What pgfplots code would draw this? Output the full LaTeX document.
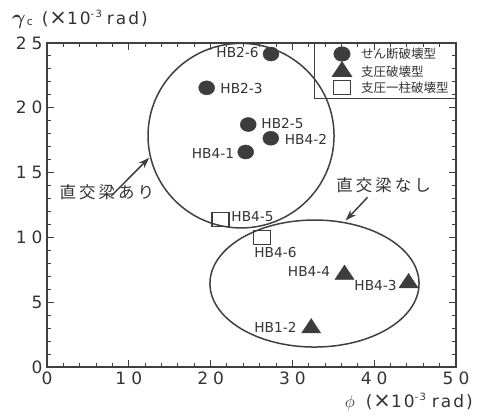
\documentclass[border=0pt]{standalone}
\usepackage{pgfplots}
\pgfplotsset{compat=1.18}
\usepackage{bm}
\usepackage{fontspec}
\setmainfont{DejaVu Sans}
\newfontfamily\spaced[LetterSpace=12]{DejaVu Sans}
\newfontfamily\cjk{Noto Sans CJK JP}
\usetikzlibrary{arrows.meta}
\definecolor{textgray}{gray}{0.2}
\definecolor{linegray}{gray}{0.25}
\definecolor{markgray}{gray}{0.24}
\begin{document}
\begin{tikzpicture}
\begin{axis}[
  width=409pt, height=324pt, scale only axis,
  xmin=0, xmax=50, ymin=0, ymax=25,
  xtick={0,10,...,50}, ytick={0,5,...,25},
  xticklabels={0,1\hspace{5pt}0,2\hspace{5pt}0,3\hspace{5pt}0,4\hspace{5pt}0,5\hspace{5pt}0},
  yticklabels={0\hspace{10pt},5\hspace{10pt},1\hspace{5pt}0,1\hspace{5pt}5,2\hspace{5pt}0,2\hspace{5pt}5},
  minor x tick num=4, minor y tick num=4,
  tick align=inside, major tick length=7pt, minor tick length=4pt,
  tick label style={font=\fontsize{17}{19}\selectfont, text=textgray},
  xticklabel style={yshift=-1pt},
  yticklabel style={xshift=-1pt},
  axis line style={line width=1.4pt, draw=linegray},
  every tick/.style={line width=1pt, draw=linegray},
  clip=false,
  legend style={at={(1,1)}, anchor=north east, draw=linegray, line width=1pt, fill=none,
    font=\cjk\fontsize{12.5}{13}\selectfont, inner xsep=5pt, inner ysep=2.5pt, row sep=0pt,
    nodes={inner sep=2pt, text=textgray}},
  legend cell align=left,
  legend image code/.code={\path[draw=none,fill=none] (0pt,-7pt) rectangle (40pt,7pt); \draw[#1] plot coordinates {(23pt,0pt)};},
]
% bounding box matching the reference proportions
\path (axis cs:-5.746,-3.704) rectangle (axis cs:53.667,28.318);

% enclosing curves
\draw[linegray, line width=1.5pt] (axis cs:23.72,17.85) ellipse [x radius=11.37, y radius=7.12];
\draw[linegray, line width=1.5pt] (axis cs:32.7,6.44) ellipse [x radius=12.78, y radius=4.9];

\addplot[only marks, mark=*, mark size=8pt, draw=markgray, fill=markgray, mark options={yscale=0.88}]
  coordinates {(27.38,24.15) (19.52,21.54) (24.6,18.71) (27.36,17.65) (24.29,16.59)};
\addlegendentry{せん断破壊型}
\addplot[only marks, mark=triangle*, mark size=11pt, draw=markgray, fill=markgray, mark options={yscale=0.87}]
  coordinates {(36.37,7.13) (44.2,6.48) (32.3,3.0)};
\addlegendentry{支圧破壊型}
\addplot[only marks, mark=square, mark size=8.5pt, draw=markgray, fill=white, line width=1.1pt, mark options={yscale=0.82}]
  coordinates {(21.21,11.4) (26.28,10.0)};
\addlegendentry{支圧一柱破壊型}

% point labels
\begin{scope}[every node/.style={font=\fontsize{13.7}{15}\selectfont, text=textgray, inner sep=0pt}]
\node at (axis cs:23.29,24.23) {HB2-6};
\node at (axis cs:23.78,21.45) {HB2-3};
\node at (axis cs:28.79,18.75) {HB2-5};
\node at (axis cs:31.66,17.59) {HB4-2};
\node at (axis cs:20.29,16.51) {HB4-1};
\node at (axis cs:25.12,11.57) {HB4-5};
\node at (axis cs:27.93,8.80) {HB4-6};
\node at (axis cs:32.03,7.33) {HB4-4};
\node at (axis cs:40.16,6.25) {HB4-3};
\node at (axis cs:27.93,3.09) {HB1-2};
\end{scope}

% annotations
\node[font=\cjk\fontsize{16.5}{18}\selectfont, text=textgray, inner sep=0pt] at (axis cs:7.33,13.5)
  {直\hspace{3pt}交\hspace{3pt}梁\hspace{3pt}あ\hspace{3pt}り};
\node[font=\cjk\fontsize{16.5}{18}\selectfont, text=textgray, inner sep=0pt] at (axis cs:41.14,14.04)
  {直\hspace{3pt}交\hspace{3pt}梁\hspace{3pt}な\hspace{3pt}し};
\draw[linegray, line width=1.5pt, -{Stealth[length=11pt,width=7.5pt]}] (axis cs:7.85,13.2) -- (axis cs:12.5,16.15);
\draw[linegray, line width=1.5pt, -{Stealth[length=11pt,width=7.5pt]}] (axis cs:39.2,13.1) -- (axis cs:36.5,11.3);

% axis titles
\node[anchor=base west, inner sep=0pt, text=textgray, font=\spaced\fontsize{17}{19}\selectfont] at (axis cs:-4.28,26.39)
  {{\fontsize{20}{20}\selectfont$\bm{\gamma}$}\hspace{1pt}\raisebox{-1pt}{\fontsize{11}{12}\selectfont c}\hspace{9pt}(\hspace{1pt}{\fontsize{21}{21}\selectfont ×}10\raisebox{7pt}{\fontsize{10}{11}\selectfont -3}\hspace{5pt}rad)};
\node[anchor=base east, inner sep=0pt, text=textgray, font=\spaced\fontsize{17}{19}\selectfont] at (axis cs:52.08,-3.16)
  {{\fontsize{19}{19}\selectfont$\phi$}\hspace{11pt}(\hspace{1pt}{\fontsize{21}{21}\selectfont ×}10\raisebox{7pt}{\fontsize{10}{11}\selectfont -3}\hspace{6pt}rad)};
\end{axis}
\end{tikzpicture}
\end{document}
